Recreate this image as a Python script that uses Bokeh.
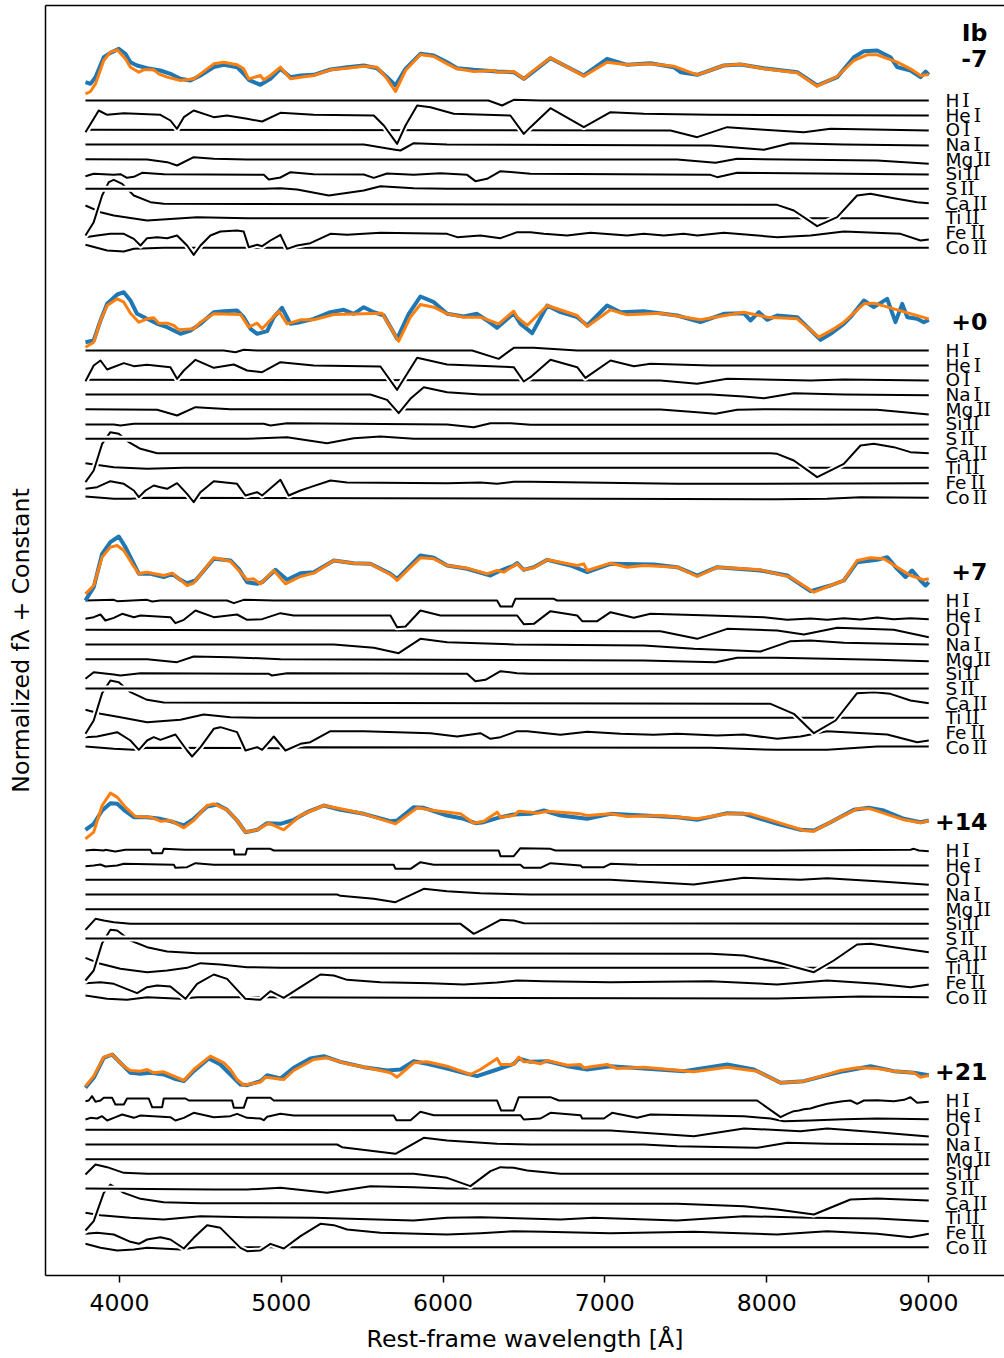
from bokeh.plotting import figure
from bokeh.models import LinearAxis, FixedTicker, Range1d, ColumnDataSource
from bokeh.embed import file_html
from bokeh.resources import INLINE
from bokeh.core.properties import value

SN_TYPE = "Ib"
EPOCHS = ["-7", "+0", "+7", "+14", "+21"]
IONS = ["H I", "He I", "O I", "Na I", "Mg II", "Si II", "S II", "Ca II", "Ti II", "Fe II", "Co II"]
TICKS = [4000, 5000, 6000, 7000, 8000, 9000]

# ---------------- observed (blue) and model (orange) spectra: (wavelength, flux) ----------------
OBS_1 = [(3790,0.55),(3821,0.50),(3852,0.70),(3903,1.30),(3944,1.43),(3996,1.55),(4037,1.40),(4068,1.15),(4109,1.05),(4171,0.97),(4253,0.90),(4315,0.80),(4377,0.65),(4439,0.60),(4501,0.75),(4583,1.00),(4645,1.07),(4727,1.00),(4768,0.80),(4799,0.62),(4871,0.47),(4933,0.65),(4995,0.95),(5057,0.70),(5119,0.75),(5201,0.77),(5304,0.93),(5407,1.00),(5510,1.05),(5592,0.97),(5654,0.70),(5706,0.45),(5768,0.95),(5860,1.40),(5943,1.35),(6025,1.15),(6087,0.97),(6190,0.92),(6334,0.87),(6437,0.85),(6499,0.65),(6540,0.80),(6664,1.27),(6870,0.75),(7014,1.25),(7138,1.07),(7282,1.12),(7426,1.00),(7468,0.85),(7571,0.77),(7735,1.05),(7838,1.08),(7983,0.97),(8189,0.85),(8312,0.45),(8436,0.70),(8539,1.30),(8601,1.48),(8683,1.50),(8765,1.30),(8807,1.00),(8889,0.90),(8951,0.70),(8982,0.87),(9002,0.77)]
MOD_1 = [(3790,0.20),(3821,0.27),(3852,0.50),(3903,1.20),(3944,1.45),(3986,1.52),(4037,1.25),(4068,1.00),(4120,0.85),(4150,0.92),(4212,0.92),(4243,0.80),(4295,0.70),(4377,0.60),(4459,0.65),(4501,0.80),(4583,1.10),(4645,1.15),(4727,1.07),(4768,0.95),(4799,0.65),(4871,0.75),(4892,0.62),(4933,0.75),(4995,1.00),(5057,0.65),(5119,0.70),(5201,0.75),(5304,0.92),(5407,0.97),(5510,1.03),(5592,1.00),(5654,0.65),(5706,0.27),(5768,0.90),(5860,1.38),(5943,1.32),(6025,1.10),(6087,0.95),(6190,0.87),(6313,0.90),(6334,0.85),(6437,0.87),(6499,0.65),(6540,0.83),(6664,1.28),(6870,0.73),(7014,1.15),(7138,1.07),(7282,1.10),(7426,1.03),(7571,0.77),(7735,1.05),(7838,1.09),(7983,0.95),(8189,0.83),(8312,0.43),(8436,0.72),(8539,1.20),(8621,1.37),(8683,1.37),(8807,1.15),(8889,0.95),(8951,0.75),(9002,0.78)]
OBS_2 = [(3790,0.25),(3841,0.30),(3883,0.90),(3924,1.40),(3986,1.68),(4027,1.75),(4068,1.50),(4109,1.10),(4171,0.95),(4233,0.80),(4295,0.70),(4377,0.50),(4439,0.60),(4501,0.80),(4583,1.15),(4645,1.18),(4727,1.20),(4768,1.00),(4810,0.65),(4851,0.50),(4913,0.58),(4954,1.00),(5005,1.28),(5057,0.80),(5119,0.85),(5201,0.95),(5304,1.15),(5386,1.22),(5448,1.10),(5510,1.30),(5572,1.15),(5634,1.05),(5716,0.35),(5788,1.10),(5860,1.62),(5943,1.45),(6025,1.10),(6128,1.02),(6210,1.10),(6272,0.90),(6334,0.68),(6437,1.12),(6479,0.80),(6551,0.52),(6644,1.35),(6726,1.15),(6829,1.00),(6891,0.75),(7014,1.35),(7097,1.15),(7241,1.18),(7447,1.05),(7591,0.85),(7735,1.10),(7859,1.12),(7900,0.90),(7952,1.15),(8003,0.92),(8065,1.05),(8189,1.00),(8333,0.32),(8395,0.50),(8477,0.80),(8518,1.00),(8601,1.50),(8662,1.30),(8745,1.55),(8796,0.85),(8838,1.40),(8869,1.00),(8930,0.95),(8971,0.85),(9002,0.92)]
MOD_2 = [(3790,0.10),(3841,0.25),(3883,0.90),(3924,1.35),(3986,1.55),(4027,1.45),(4068,1.12),(4120,0.85),(4171,0.95),(4212,0.98),(4243,0.82),(4295,0.82),(4336,0.75),(4367,0.62),(4459,0.65),(4501,0.85),(4583,1.10),(4748,1.08),(4799,0.70),(4851,0.82),(4882,0.65),(4985,1.18),(5036,0.80),(5119,0.92),(5201,0.92),(5325,1.08),(5510,1.10),(5623,1.12),(5726,0.28),(5798,1.00),(5860,1.38),(5943,1.30),(6025,1.10),(6128,1.00),(6231,1.00),(6344,0.80),(6437,1.18),(6458,1.00),(6520,0.75),(6644,1.35),(6829,1.05),(6891,0.72),(7035,1.22),(7138,1.07),(7344,1.12),(7591,0.92),(7859,1.15),(8003,1.00),(8189,0.95),(8323,0.40),(8415,0.65),(8477,0.85),(8601,1.40),(8662,1.42),(8786,1.25),(9002,0.95)]
OBS_3 = [(3790,0.00),(3841,0.40),(3893,1.40),(3944,1.75),(3996,1.92),(4037,1.60),(4089,1.10),(4120,0.80),(4192,0.80),(4274,0.70),(4326,0.80),(4377,0.62),(4418,0.52),(4470,0.60),(4583,1.25),(4686,1.20),(4737,0.95),(4789,0.55),(4851,0.50),(4882,0.55),(4964,0.92),(5036,0.62),(5119,0.82),(5201,0.85),(5325,1.20),(5448,1.12),(5551,1.10),(5675,0.80),(5716,0.65),(5788,1.00),(5860,1.35),(5943,1.28),(6025,1.05),(6149,0.95),(6293,0.75),(6334,0.85),(6437,1.05),(6458,1.12),(6499,0.92),(6561,1.00),(6644,1.22),(6788,1.05),(6891,0.85),(7035,1.10),(7303,1.08),(7447,1.00),(7571,0.75),(7694,1.00),(7962,0.90),(8127,0.75),(8271,0.28),(8395,0.45),(8477,0.60),(8559,1.15),(8683,1.22),(8745,1.30),(8807,0.95),(8858,0.70),(8899,0.90),(8951,0.60),(8982,0.45),(9002,0.55)]
MOD_3 = [(3790,0.20),(3841,0.45),(3893,1.30),(3944,1.60),(3986,1.65),(4027,1.50),(4078,1.10),(4120,0.80),(4171,0.85),(4274,0.75),(4326,0.82),(4418,0.45),(4459,0.52),(4583,1.28),(4686,1.18),(4789,0.62),(4830,0.65),(4871,0.50),(4954,0.90),(5026,0.50),(5119,0.72),(5201,0.82),(5325,1.20),(5448,1.12),(5551,1.10),(5685,0.75),(5716,0.60),(5788,0.95),(5860,1.28),(5943,1.25),(6025,1.05),(6149,0.97),(6272,0.80),(6334,0.90),(6375,0.85),(6458,1.10),(6499,0.92),(6561,0.98),(6644,1.22),(6829,1.05),(6870,1.10),(6891,0.90),(7035,1.12),(7138,1.00),(7241,1.05),(7447,1.00),(7571,0.72),(7694,1.00),(7962,0.92),(8147,0.70),(8292,0.25),(8395,0.45),(8477,0.60),(8559,1.20),(8642,1.28),(8724,1.25),(8807,1.00),(8889,0.75),(8971,0.62),(9002,0.65)]
OBS_4 = [(3790,0.62),(3841,0.80),(3893,1.20),(3944,1.42),(3986,1.40),(4037,1.18),(4089,1.00),(4171,1.00),(4253,0.95),(4315,0.88),(4398,0.75),(4459,0.95),(4542,1.32),(4604,1.38),(4665,1.22),(4727,0.90),(4779,0.55),(4851,0.62),(4913,0.82),(4995,0.80),(5077,0.92),(5160,1.15),(5263,1.35),(5366,1.22),(5510,1.10),(5675,0.88),(5716,0.90),(5819,1.30),(5881,1.28),(6025,1.05),(6128,0.95),(6200,0.82),(6252,0.85),(6355,1.00),(6437,1.08),(6540,1.10),(6623,1.20),(6726,1.05),(6891,0.95),(7035,1.10),(7241,1.05),(7447,1.00),(7571,0.92),(7756,1.12),(7859,1.10),(8065,0.80),(8209,0.62),(8292,0.60),(8395,0.85),(8539,1.22),(8631,1.28),(8724,1.20),(8848,0.95),(8951,0.85),(9002,0.90)]
MOD_4 = [(3790,0.35),(3841,0.55),(3893,1.35),(3944,1.72),(3986,1.60),(4037,1.30),(4099,1.02),(4192,1.00),(4253,0.88),(4315,0.90),(4398,0.68),(4459,0.90),(4542,1.35),(4583,1.40),(4665,1.22),(4727,0.90),(4779,0.55),(4851,0.62),(4923,0.82),(5015,0.62),(5119,1.05),(5263,1.35),(5366,1.25),(5510,1.10),(5706,0.80),(5840,1.28),(5943,1.20),(6108,1.10),(6190,0.82),(6252,0.88),(6334,1.15),(6355,1.00),(6437,1.05),(6468,1.18),(6540,1.15),(6582,1.12),(6644,1.18),(6850,1.10),(6891,1.05),(7035,1.10),(7138,1.02),(7344,1.05),(7571,0.95),(7756,1.10),(7900,1.10),(8065,0.85),(8230,0.60),(8292,0.58),(8395,0.85),(8559,1.25),(8642,1.25),(8848,0.92),(8951,0.83),(9002,0.90)]
OBS_5 = [(3790,0.38),(3841,0.68),(3903,1.28),(3955,1.38),(4006,1.13),(4068,0.83),(4130,0.80),(4192,0.83),(4274,0.78),(4336,0.66),(4398,0.58),(4459,0.88),(4552,1.26),(4624,1.08),(4686,0.78),(4748,0.48),(4789,0.46),(4871,0.58),(4913,0.76),(4995,0.66),(5077,0.98),(5180,1.26),(5263,1.33),(5366,1.16),(5510,1.00),(5654,0.90),(5737,0.93),(5819,1.18),(5901,1.10),(6025,0.96),(6149,0.80),(6210,0.73),(6334,0.93),(6437,1.10),(6468,1.26),(6540,1.16),(6644,1.18),(6767,1.03),(6891,0.93),(7035,1.03),(7241,0.96),(7488,0.88),(7756,1.08),(7921,0.93),(8086,0.53),(8230,0.58),(8374,0.76),(8477,0.88),(8642,1.03),(8786,0.88),(8910,0.83),(9002,0.76)]
MOD_5 = [(3790,0.43),(3841,0.73),(3903,1.30),(3955,1.38),(4027,1.03),(4068,0.90),(4130,0.88),(4171,0.93),(4212,0.83),(4274,0.86),(4336,0.73),(4398,0.60),(4459,0.93),(4562,1.33),(4645,1.13),(4686,0.93),(4727,0.63),(4768,0.46),(4871,0.55),(4902,0.70),(5016,0.63),(5077,0.90),(5201,1.23),(5283,1.28),(5407,1.10),(5531,0.98),(5675,0.83),(5716,0.70),(5819,1.13),(5901,1.16),(6025,1.03),(6169,0.78),(6231,0.93),(6334,1.26),(6355,1.08),(6437,1.08),(6468,1.30),(6499,1.16),(6540,1.16),(6602,1.10),(6644,1.20),(6767,1.06),(6850,1.08),(6870,0.98),(7014,1.08),(7076,0.96),(7241,1.00),(7550,0.86),(7756,1.00),(7941,0.88),(8086,0.53),(8230,0.58),(8374,0.78),(8456,0.90),(8559,0.98),(8683,0.96),(8786,0.88),(8910,0.83),(8951,0.70),(9002,0.75)]

# ---------------- single-ion contributions: (wavelength, deviation) ----------------
IONS_1 = {
    "H I": [(3790,0),(6280,0),(6365,-0.15),(6437,0.02),(6600,0),(9002,0)],
    "He I": [(3790,-0.51),(3841,-0.11),(3872,0.14),(3924,0.01),(4027,0.06),(4253,0.01),(4315,-0.16),(4356,-0.41),(4398,-0.06),(4459,0.14),(4583,-0.06),(4665,-0.01),(4789,-0.11),(4882,-0.19),(4995,0.07),(5201,0.01),(5572,-0.01),(5634,-0.31),(5716,-0.86),(5768,-0.31),(5840,0.29),(5922,0.24),(6066,0.04),(6416,-0.01),(6499,-0.56),(6540,-0.36),(6664,0.21),(6870,-0.36),(7035,0.09),(7241,0.04),(7653,0.01),(9002,-0.01)],
    "O I": [(3790,0),(7406,-0.02),(7571,-0.22),(7756,0.08),(7983,0),(8230,-0.07),(8395,0.03),(9002,-0.02)],
    "Na I": [(3790,0),(5510,0),(5695,-0.15),(5737,-0.18),(5819,0.04),(6025,0),(7653,-0.03),(7983,-0.16),(8147,0.04),(8477,0),(9002,-0.03)],
    "Mg II": [(3790,0),(4171,-0.01),(4295,-0.09),(4356,-0.19),(4459,0.06),(4583,0.01),(4789,-0.01),(7447,-0.01),(7684,-0.11),(7818,0.01),(8683,-0.04),(9002,-0.14)],
    "Si II": [(3790,-0.07),(3841,0),(3965,-0.03),(4006,-0.01),(4047,-0.12),(4089,-0.09),(4140,0.03),(4274,-0.01),(4892,-0.03),(4923,-0.17),(4995,-0.11),(5057,0.05),(5201,-0.01),(5510,-0.02),(5572,-0.12),(5654,0.01),(5819,-0.03),(5984,0.02),(6149,-0.03),(6200,-0.22),(6272,-0.15),(6355,0.08),(6540,0),(7653,-0.03),(7694,-0.10),(7818,0.03),(9002,-0.02)],
    "S II": [(3790,-0.01),(4892,-0.01),(4995,0.01),(5098,-0.03),(5294,-0.21),(5510,-0.06),(5613,0.07),(5819,0.01),(6025,-0.01),(9002,-0.01)],
    "Ca II": [(3790,-0.97),(3841,-0.57),(3893,0.23),(3934,0.63),(3965,0.70),(4017,0.58),(4089,0.23),(4192,0.03),(4274,-0.02),(8065,-0.05),(8168,-0.22),(8312,-0.69),(8436,-0.42),(8559,0.23),(8642,0.28),(8786,0.15),(8930,0.03),(9002,0)],
    "Ti II": [(3790,0.37),(3883,0.17),(3965,0.07),(4171,-0.08),(4480,0.02),(4789,-0.01),(9002,-0.01)],
    "Fe II": [(3790,-0.14),(3862,-0.09),(3944,-0.04),(4027,-0.04),(4089,-0.19),(4130,-0.39),(4171,-0.17),(4233,-0.14),(4295,-0.17),(4356,-0.09),(4418,-0.39),(4459,-0.67),(4501,-0.39),(4562,-0.09),(4624,0.03),(4727,0.06),(4768,0.03),(4799,-0.44),(4851,-0.37),(4882,-0.41),(4933,-0.24),(4995,-0.07),(5036,-0.49),(5098,-0.39),(5180,-0.32),(5304,-0.04),(5407,-0.07),(5613,-0.01),(6025,-0.04),(6087,-0.14),(6231,-0.09),(6355,-0.17),(6458,0.01),(6540,0.01),(6623,-0.04),(6767,-0.09),(6911,-0.01),(7138,-0.09),(7241,-0.04),(7365,-0.09),(7488,-0.04),(7571,-0.09),(7735,-0.01),(8065,-0.14),(8271,-0.09),(8477,0.03),(8827,-0.04),(8951,-0.24),(9002,-0.21)],
    "Co II": [(3790,0.07),(3924,-0.10),(4027,-0.13),(4089,-0.05),(4274,-0.02),(9002,-0.02)],
}
IONS_2 = {
    "H I": [(3790,0),(4645,0),(4717,-0.05),(4768,0.02),(4850,0),(6180,0),(6344,-0.25),(6437,0.08),(6560,0.08),(6829,0),(9002,0)],
    "He I": [(3790,-0.48),(3841,-0.01),(3883,0.14),(3924,-0.13),(4027,0.06),(4089,-0.03),(4171,0.01),(4315,-0.06),(4356,-0.41),(4398,-0.16),(4470,0.16),(4583,-0.08),(4707,0.02),(4789,-0.16),(4882,-0.21),(4995,0.09),(5201,-0.01),(5613,-0.04),(5716,-0.74),(5840,0.22),(6025,0.02),(6437,-0.06),(6499,-0.49),(6540,-0.36),(6664,0.16),(6829,-0.06),(6880,-0.38),(7035,0.14),(7179,-0.03),(7282,0.04),(7653,-0.01),(9002,-0.01)],
    "O I": [(3790,0),(7344,-0.02),(7571,-0.12),(7756,0.03),(8271,-0.02),(8477,0.01),(9002,-0.02)],
    "Na I": [(3790,0),(5551,0),(5654,-0.16),(5726,-0.56),(5798,-0.13),(5881,0.22),(6025,0.07),(6231,0),(7653,0),(7859,-0.06),(7983,-0.11),(8168,0.04),(8477,0),(9002,-0.02)],
    "Mg II": [(3790,0),(4233,-0.02),(4356,-0.19),(4470,0.06),(4686,0),(7344,-0.01),(7571,-0.09),(7684,-0.14),(7818,-0.02),(8024,0),(8683,-0.02),(9002,-0.16)],
    "Si II": [(3790,-0.02),(3965,-0.02),(4006,-0.05),(4089,0),(4892,0),(4933,-0.05),(5036,0.02),(6025,-0.02),(6190,-0.10),(6293,0.02),(6417,0.02),(6541,-0.03),(9002,-0.02)],
    "S II": [(3790,-0.01),(4789,-0.01),(5036,0.04),(5283,-0.14),(5448,0.01),(5613,0.06),(5819,-0.01),(9002,-0.01)],
    "Ca II": [(3790,-0.87),(3841,-0.52),(3893,0.28),(3944,0.63),(3996,0.58),(4058,0.33),(4130,0.13),(4233,0),(8024,0),(8065,-0.02),(8168,-0.22),(8312,-0.72),(8415,-0.47),(8477,-0.32),(8580,0.23),(8662,0.28),(8786,0.18),(8889,0.03),(9002,0)],
    "Ti II": [(3790,0.14),(3965,0.02),(4171,-0.03),(4400,0),(9002,0)],
    "Fe II": [(3790,-0.19),(3862,-0.14),(3944,0.04),(4027,-0.04),(4089,-0.24),(4120,-0.44),(4161,-0.24),(4212,-0.09),(4253,-0.14),(4295,-0.19),(4356,-0.02),(4418,-0.34),(4459,-0.59),(4501,-0.29),(4583,0.04),(4727,-0.04),(4779,-0.39),(4851,-0.29),(4882,-0.39),(4995,0.08),(5046,-0.39),(5119,-0.24),(5180,-0.14),(5304,0.06),(5407,0),(6025,-0.02),(6231,0),(6334,-0.04),(6437,0.02),(6540,0.02),(7447,-0.04),(7859,-0.04),(9002,-0.02)],
    "Co II": [(3790,0.02),(3965,-0.05),(4068,-0.05),(4171,-0.02),(8065,-0.06),(8374,-0.05),(8580,0),(9002,-0.02)],
}
IONS_3 = {
    "H I": [(3790,0),(3965,0.02),(3986,-0.02),(4171,0.02),(4202,-0.03),(4253,0),(4665,0),(4707,-0.08),(4768,0.02),(4954,0),(6334,0),(6355,-0.18),(6427,-0.18),(6447,0.05),(6685,0.05),(6705,0),(9002,0)],
    "He I": [(3790,-0.11),(3841,-0.06),(3883,0.02),(3913,-0.16),(3965,-0.08),(4017,0.04),(4089,-0.06),(4130,-0.01),(4315,-0.06),(4346,-0.24),(4398,-0.14),(4470,0.14),(4583,-0.06),(4727,0.02),(4789,-0.14),(4882,-0.12),(4995,0.06),(5077,-0.01),(5675,-0.01),(5716,-0.36),(5768,-0.34),(5860,0.14),(5984,-0.01),(6458,-0.01),(6499,-0.27),(6561,-0.26),(6664,0.12),(6829,-0.01),(6860,-0.18),(6953,-0.18),(7035,0.09),(7179,-0.08),(7282,0.04),(7653,-0.01),(7983,-0.06),(8127,-0.14),(8271,-0.10),(8374,-0.14),(8477,-0.09),(8580,-0.13),(8683,-0.07),(8786,-0.12),(8889,-0.09),(9002,-0.12)],
    "O I": [(3790,0),(7344,-0.04),(7571,-0.27),(7756,0.03),(8065,-0.02),(8230,-0.14),(8436,0.06),(8786,0),(9002,-0.22)],
    "Na I": [(3790,0),(5325,0),(5572,-0.10),(5726,-0.26),(5860,0.17),(6025,0.07),(6437,0),(7241,-0.03),(7550,-0.13),(7962,-0.21),(8147,0.10),(8271,0.12),(8477,0.05),(9002,0)],
    "Mg II": [(3790,0),(4171,0),(4356,-0.09),(4459,0.08),(4686,0.06),(4995,0),(7241,-0.04),(7684,-0.09),(7818,0.04),(8065,0.04),(8683,-0.02),(9002,-0.06)],
    "Si II": [(3790,-0.15),(3841,0.05),(3965,-0.02),(4006,-0.05),(4130,0.02),(4923,0),(4943,-0.05),(5036,0.02),(6149,0),(6200,-0.22),(6262,-0.18),(6355,0.08),(6458,0.02),(6540,0),(9002,0)],
    "S II": [(3790,0),(9002,0)],
    "Ca II": [(3790,-0.92),(3841,-0.52),(3893,0.30),(3944,0.68),(3996,0.63),(4068,0.33),(4171,0.10),(4274,0.02),(8024,-0.02),(8168,-0.32),(8292,-0.90),(8426,-0.52),(8559,0.30),(8662,0.33),(8765,0.28),(8889,0.08),(9002,0)],
    "Ti II": [(3790,0.24),(3883,0.12),(4006,0.02),(4171,-0.13),(4377,-0.06),(4521,0.10),(4686,0.02),(4892,0),(9002,0)],
    "Fe II": [(3790,-0.14),(3862,-0.12),(3986,0.01),(4068,-0.24),(4120,-0.52),(4171,-0.24),(4212,-0.14),(4253,-0.22),(4346,-0.06),(4418,-0.54),(4449,-0.72),(4501,-0.44),(4583,0.11),(4624,0.16),(4727,0.01),(4779,-0.54),(4851,-0.44),(4882,-0.52),(4954,-0.12),(5026,-0.54),(5119,-0.34),(5180,-0.29),(5304,0.04),(5510,0.04),(5922,-0.02),(6087,-0.12),(6231,-0.02),(6293,-0.19),(6355,-0.14),(6458,0.04),(6520,0.04),(6726,-0.07),(6891,0.02),(7097,-0.04),(7303,-0.07),(7447,-0.04),(7694,-0.09),(7859,-0.06),(8065,-0.19),(8209,-0.12),(8374,0.04),(8745,-0.06),(8930,-0.29),(9002,-0.24)],
    "Co II": [(3790,0.02),(3965,-0.05),(4089,-0.08),(4171,-0.02),(4995,-0.03),(5160,0),(7653,-0.02),(8065,-0.08),(8374,-0.08),(8683,0.02),(9002,0.02)],
}
IONS_4 = {
    "H I": [(3790,0),(3841,0.02),(3903,0),(3913,0.02),(3965,-0.02),(3975,-0.03),(4037,0.02),(4192,0.02),(4202,-0.08),(4264,-0.08),(4274,0.05),(4408,0.02),(4707,0.02),(4711,-0.12),(4779,-0.12),(4789,0.05),(4933,0.05),(4954,0),(6344,0),(6355,-0.17),(6437,-0.17),(6478,0.07),(6664,0.05),(6695,0),(8065,0),(8889,0.02),(8910,0.05),(8941,0),(9002,-0.02)],
    "He I": [(3790,-0.03),(3841,-0.01),(3883,0.02),(3913,-0.04),(3986,-0.01),(4027,0.04),(4336,0.01),(4346,-0.08),(4418,-0.06),(4470,0.06),(4583,0.01),(5695,0.01),(5706,-0.11),(5799,-0.11),(5860,0.09),(5943,0.01),(6478,0.01),(6499,-0.08),(6602,-0.08),(6664,0.06),(6850,-0.01),(6860,-0.06),(6994,-0.06),(7035,0.04),(7200,0.01),(9002,-0.01)],
    "O I": [(3790,0),(7035,0),(7550,-0.14),(7859,0.06),(8209,0),(8374,0.05),(8683,-0.04),(9002,-0.15)],
    "Na I": [(3790,0),(5345,0),(5366,-0.04),(5572,-0.13),(5706,-0.23),(5881,0.17),(6025,0.10),(6231,0.04),(6540,0),(9002,0)],
    "Mg II": [(3790,0),(9002,0)],
    "Si II": [(3790,-0.18),(3852,0.15),(3903,0.10),(3965,0.05),(4068,0),(6108,0),(6149,-0.15),(6190,-0.30),(6252,-0.15),(6355,0.12),(6437,0.10),(6500,0.02),(9002,0)],
    "S II": [(3790,0),(9002,0)],
    "Ca II": [(3790,-0.82),(3841,-0.52),(3893,0.30),(3944,0.70),(3986,0.68),(4068,0.38),(4171,0.18),(4295,0.05),(4480,0),(7653,-0.02),(7859,-0.07),(8065,-0.27),(8292,-0.57),(8415,-0.22),(8559,0.26),(8642,0.28),(8786,0.18),(9002,0.03)],
    "Ti II": [(3790,0.30),(3883,0.12),(4006,-0.03),(4171,-0.13),(4295,-0.08),(4418,0),(4501,0.14),(4624,0.10),(4789,0.02),(4995,0),(9002,0)],
    "Fe II": [(3790,-0.02),(3883,0.01),(3965,-0.04),(4109,-0.32),(4171,-0.14),(4233,-0.09),(4315,-0.12),(4408,-0.49),(4480,-0.04),(4583,0.24),(4665,0.11),(4779,-0.49),(4871,-0.52),(4933,-0.26),(5015,-0.46),(5119,-0.14),(5242,0.24),(5325,0.21),(5407,0.08),(5613,0.01),(5922,-0.02),(6128,-0.06),(6334,0),(6458,0.06),(6623,0.04),(7035,0.01),(7653,0.04),(8065,-0.06),(8374,0.06),(8683,-0.04),(8889,-0.14),(9002,-0.06)],
    "Co II": [(3790,0.05),(3924,-0.05),(4047,-0.08),(4171,0),(4377,-0.05),(4480,0),(8065,-0.04),(8580,0.02),(9002,0)],
}
IONS_5 = {
    "H I": [(3790,-0.02),(3810,0),(3831,0.13),(3852,-0.04),(3883,0),(3903,0.08),(3955,0.08),(3975,-0.12),(4027,-0.12),(4047,0.06),(4181,0.06),(4202,-0.20),(4264,-0.20),(4274,0.06),(4408,0.06),(4429,0),(4696,0),(4707,-0.22),(4768,-0.22),(4789,0.08),(4933,0.08),(4954,0),(6334,0),(6359,-0.30),(6437,-0.30),(6468,0.10),(6664,0.10),(6716,0),(7941,0),(8086,-0.50),(8127,-0.40),(8168,-0.32),(8200,-0.30),(8230,-0.26),(8271,-0.24),(8310,-0.18),(8374,-0.10),(8420,-0.06),(8470,-0.02),(8518,0),(8559,-0.10),(8601,0),(8683,0.01),(8786,-0.02),(8850,0.02),(8889,0.10),(8930,-0.07),(9002,-0.04)],
    "He I": [(3790,-0.13),(3821,-0.08),(3862,-0.10),(3893,-0.03),(3924,-0.16),(3965,-0.08),(4017,0.02),(4089,-0.08),(4130,-0.01),(4315,-0.06),(4346,-0.16),(4398,-0.08),(4459,0.07),(4583,-0.06),(4686,-0.03),(4727,0.04),(4789,-0.08),(4871,-0.10),(4892,-0.15),(4913,-0.05),(4995,0.04),(5077,-0.01),(5695,-0.01),(5712,-0.15),(5799,-0.15),(5860,0.10),(5943,0),(6478,0),(6499,-0.13),(6602,-0.10),(6664,0.07),(6850,0),(6860,-0.10),(6994,-0.10),(7045,0.07),(7200,-0.08),(7282,0.02),(7859,-0.03),(8024,-0.10),(8106,-0.18),(8271,-0.16),(8477,-0.12),(8683,-0.10),(9002,-0.12)],
    "O I": [(3790,0),(7035,-0.02),(7550,-0.19),(7859,0.04),(8209,-0.04),(8374,0.04),(8683,-0.07),(9002,-0.20)],
    "Na I": [(3790,0),(5345,0),(5376,-0.08),(5706,-0.28),(5881,0.20),(6025,0.12),(6334,0.02),(6540,0),(7241,0),(7447,-0.05),(7941,-0.10),(8127,0.05),(8374,0.02),(9002,0)],
    "Mg II": [(3790,0),(9002,0)],
    "Si II": [(3790,-0.02),(3852,0.28),(3924,0.20),(4027,0.03),(4171,0),(5819,0),(6025,-0.12),(6169,-0.37),(6293,0.08),(6355,0.20),(6437,0.18),(6520,0.10),(6726,0),(9002,0)],
    "S II": [(3790,0),(4583,-0.03),(4789,-0.03),(4995,0.02),(5283,-0.13),(5551,0.07),(5819,0.04),(6025,0),(9002,0)],
    "Ca II": [(3790,-0.82),(3841,-0.54),(3903,0.31),(3944,0.56),(4027,0.31),(4130,0.13),(4274,0.03),(4501,0),(7447,-0.02),(7859,-0.09),(8065,-0.19),(8292,-0.34),(8518,0.11),(8683,0.14),(9002,0.08)],
    "Ti II": [(3790,0.15),(3883,0.08),(4068,0),(4274,-0.05),(4501,0.05),(4789,0.02),(5201,0),(5819,-0.08),(6025,0),(6231,0.02),(6726,-0.05),(6932,0),(7447,-0.08),(7859,0.05),(8271,0),(8683,-0.02),(9002,-0.10)],
    "Fe II": [(3790,-0.04),(3862,-0.01),(3965,-0.06),(4068,-0.28),(4120,-0.34),(4171,-0.21),(4253,-0.14),(4315,-0.21),(4398,-0.48),(4459,-0.16),(4542,0.22),(4624,0.14),(4748,-0.46),(4789,-0.56),(4871,-0.54),(4933,-0.34),(5016,-0.48),(5119,-0.11),(5242,0.26),(5325,0.22),(5407,0.09),(5613,-0.01),(6025,-0.06),(6231,-0.02),(6437,0.04),(6623,0.02),(7035,-0.02),(7550,0.02),(8065,-0.06),(8374,0.04),(8683,-0.04),(8889,-0.14),(9002,-0.04)],
    "Co II": [(3790,0.10),(3883,-0.02),(3986,-0.10),(4089,-0.07),(4171,-0.02),(4377,-0.07),(4480,0),(9002,0)],
}

OBS = [OBS_1, OBS_2, OBS_3, OBS_4, OBS_5]
MOD = [MOD_1, MOD_2, MOD_3, MOD_4, MOD_5]
ION_SETS = [IONS_1, IONS_2, IONS_3, IONS_4, IONS_5]

# ---------------- layout constants ----------------
PANEL_STEP = 7.5
ROW_STEP = 0.44
FONT = "DejaVu Sans"
ADV = {"H": 0.752, "He": 1.367, "O": 0.787, "Na": 1.361, "Mg": 1.498, "Si": 0.913,
       "S": 0.635, "Ca": 1.311, "Ti": 0.889, "Fe": 1.19, "Co": 1.31}
ION_FS = 18.5

p = figure(width=1004, height=1356, x_range=Range1d(3543, 9470), y_range=Range1d(-35.25, 2.85),
           output_backend="svg", toolbar_location=None,
           min_border_left=45, min_border_right=0, min_border_top=5, min_border_bottom=81)
p.outline_line_color = None
p.grid.visible = False
p.background_fill_color = "white"

xa = p.xaxis[0]
xa.ticker = FixedTicker(ticks=TICKS)
xa.minor_tick_line_color = None
xa.major_tick_out = 7
xa.major_tick_in = 0
xa.major_tick_line_width = 1.5
xa.axis_line_width = 1.5
xa.major_label_text_font = FONT
xa.major_label_text_font_size = "23.6px"
xa.major_label_text_color = "black"
xa.major_label_standoff = 11
xa.axis_label = "Rest-frame wavelength [Å]"
xa.axis_label_text_font = FONT
xa.axis_label_text_font_size = "23.6px"
xa.axis_label_text_font_style = "normal"
xa.axis_label_text_color = "black"
xa.axis_label_standoff = 11

ya = p.yaxis[0]
ya.ticker = FixedTicker(ticks=[])
ya.major_label_text_font_size = "0px"
ya.major_tick_out = 0
ya.major_tick_in = 0
ya.minor_tick_line_color = None
ya.axis_line_width = 1.5
ya.axis_label = "Normalized fλ + Constant"
ya.axis_label_text_font = FONT
ya.axis_label_text_font_size = "23.6px"
ya.axis_label_text_font_style = "normal"
ya.axis_label_text_color = "black"
ya.axis_label_standoff = 11

top = LinearAxis(ticker=FixedTicker(ticks=[]), major_label_text_font_size="0px",
                 major_tick_out=0, major_tick_in=0, minor_tick_line_color=None,
                 axis_line_width=1.5)
p.add_layout(top, "above")

# ---------------- draw ----------------
lab_x, lab_y, lab_el, lab_num, lab_off = [], [], [], [], []
for i in range(5):
    base = -PANEL_STEP * i
    ions = ION_SETS[i]
    for k in reversed(range(len(IONS))):
        name = IONS[k]
        pts = ions[name]
        xs = [a for a, _ in pts]
        ys = [base - ROW_STEP * k + b for _, b in pts]
        p.line(xs, ys, line_color="white", line_width=6, line_join="round", line_cap="round")
        p.line(xs, ys, line_color="black", line_width=2, line_join="round")
    for k, name in enumerate(IONS):
        el, num = name.split(" ")
        lab_x.append(9105)
        lab_y.append(base - ROW_STEP * k)
        lab_el.append(el)
        lab_num.append(num)
        lab_off.append(ADV[el] * ION_FS + 3)
    ox = [a for a, _ in OBS[i]]
    oy = [base + b for _, b in OBS[i]]
    p.line(ox, oy, line_color="#1f77b4", line_width=4, line_join="round")
    mx = [a for a, _ in MOD[i]]
    my = [base + b for _, b in MOD[i]]
    p.line(mx, my, line_color="#ff7f0e", line_width=3, line_join="round")

src = ColumnDataSource(dict(x=lab_x, y=lab_y, el=lab_el, num=lab_num, off=lab_off))
p.text(x="x", y="y", text="el", source=src, text_font=value(FONT), text_font_size=f"{ION_FS}px",
       text_baseline="middle", text_align="left", text_color="black")
p.text(x="x", y="y", text="num", source=src, x_offset="off", text_font=value("DejaVu Serif"),
       text_font_size=f"{ION_FS}px", text_baseline="middle", text_align="left", text_color="black")

ep_y = [1.26] + [-PANEL_STEP * i + 0.86 for i in range(1, 5)]
p.text(x=[9365] * 5, y=ep_y, text=EPOCHS, text_font=value(FONT), text_font_size="23.6px",
       text_font_style="bold", text_align="right", text_baseline="middle", text_color="black")
p.text(x=[9365], y=[2.04], text=[SN_TYPE], text_font=value(FONT), text_font_size="23.6px",
       text_font_style="bold", text_align="right", text_baseline="middle", text_color="black")

open("out.html", "w").write(file_html(p, INLINE))
